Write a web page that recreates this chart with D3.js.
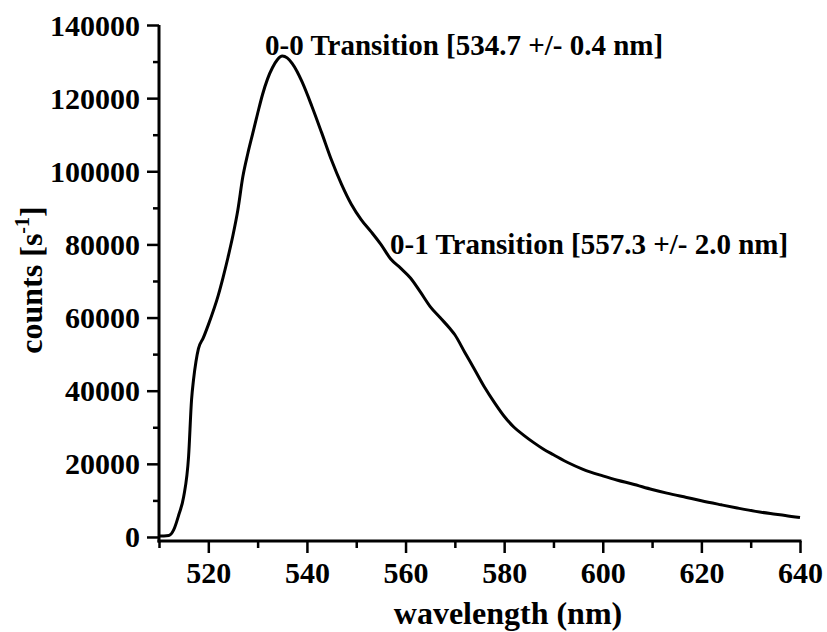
<!DOCTYPE html>
<html>
<head>
<meta charset="utf-8">
<script src="https://cdn.jsdelivr.net/npm/d3@7"></script>
<style>
  body { margin: 0; background: #fff; }
  svg { display: block; }
  text { font-family: "Liberation Serif", "Times New Roman", serif; font-weight: bold; fill: #000; }
</style>
</head>
<body>
<svg id="chart" width="827" height="632"></svg>
<script>
// ---- data ----
const wavelength = [510, 511, 512, 513, 514, 515, 516, 516.6, 517, 517.5, 518, 519, 520, 522, 523, 524, 525, 526, 527, 528, 529, 530, 531, 532, 533, 534, 535, 536, 537, 538, 539, 541, 543, 545, 547, 549, 551, 553, 555, 557, 559, 561, 563, 565, 567, 569, 570, 572, 574, 576, 578, 580, 582, 584, 586, 588, 590, 593, 596, 600, 603, 606, 610, 613, 617, 620, 624, 627, 631, 634, 637, 640];
const counts = [300, 300, 400, 2000, 6000, 11000, 22000, 37500, 43000, 48000, 51500, 54500, 58000, 66000, 71000, 76500, 82500, 89500, 98500, 104800, 110300, 115800, 121000, 125200, 128300, 130500, 131500, 131000, 129500, 127300, 124500, 117800, 110500, 103000, 96500, 91000, 86800, 83500, 80000, 76000, 73500, 70800, 67000, 63000, 60000, 57000, 55300, 50500, 45800, 41000, 36800, 33000, 30000, 27800, 25800, 24000, 22500, 20300, 18500, 16700, 15500, 14500, 13000, 12000, 10800, 9900, 8800, 8000, 7000, 6400, 5900, 5300];

const xMajorTicks = [520, 540, 560, 580, 600, 620, 640];
const xMinorTicks = [510, 530, 550, 570, 590, 610, 630];
const yMajorTicks = [0, 20000, 40000, 60000, 80000, 100000, 120000, 140000];
const yMinorTicks = [10000, 30000, 50000, 70000, 90000, 110000, 130000];

const xTitle = "wavelength (nm)";
const yTitleMain = "counts [s";
const yTitleSup = "-1";
const yTitleEnd = "]";
const annotations = [
  { text: "0-0 Transition [534.7 +/- 0.4 nm]", wl: 534.7 },
  { text: "0-1 Transition [557.3 +/- 2.0 nm]", wl: 557.3 }
];

// ---- layout ----
const svg = d3.select("#chart");
const mLeft = 159, mRight = 800, mTop = 25, mBottom = 541;

const x = d3.scaleLinear().domain([510, 640]).range([mLeft, mRight]);
const y = d3.scaleLinear().domain([-1100, 140000]).range([mBottom, mTop]);

// x axis
const gx = svg.append("g").attr("transform", `translate(0,${mBottom})`);
gx.call(d3.axisBottom(x).tickValues(xMajorTicks).tickSize(12).tickSizeOuter(0).tickFormat(d3.format("d")));
gx.select(".domain").attr("stroke", "#000").attr("stroke-width", 3).attr("d", `M${mLeft - 1.5},0H${mRight + 1.5}`);
gx.selectAll(".tick line").attr("stroke", "#000").attr("stroke-width", 2.5);
gx.selectAll(".tick text").attr("y", 42).attr("dy", 0)
  .style("font-family", "'Liberation Serif', serif").style("font-weight", "bold").style("font-size", "30px").attr("fill", "#000");
const gxm = svg.append("g").attr("transform", `translate(0,${mBottom})`);
gxm.call(d3.axisBottom(x).tickValues(xMinorTicks).tickSize(7).tickSizeOuter(0).tickFormat(""));
gxm.select(".domain").remove();
gxm.selectAll(".tick line").attr("stroke", "#000").attr("stroke-width", 2.5);

// y axis
const gy = svg.append("g").attr("transform", `translate(${mLeft},0)`);
gy.call(d3.axisLeft(y).tickValues(yMajorTicks).tickSize(12).tickSizeOuter(0).tickFormat(d3.format("d")));
gy.select(".domain").attr("stroke", "#000").attr("stroke-width", 3).attr("d", `M0,${mBottom + 1.5}V${mTop}`);
gy.selectAll(".tick line").attr("stroke", "#000").attr("stroke-width", 2.5);
gy.selectAll(".tick text").attr("x", -19).attr("dy", 0).attr("y", 10)
  .style("font-family", "'Liberation Serif', serif").style("font-weight", "bold").style("font-size", "30px").attr("fill", "#000");
const gym = svg.append("g").attr("transform", `translate(${mLeft},0)`);
gym.call(d3.axisLeft(y).tickValues(yMinorTicks).tickSize(6).tickSizeOuter(0).tickFormat(""));
gym.select(".domain").remove();
gym.selectAll(".tick line").attr("stroke", "#000").attr("stroke-width", 2.5);

// curve
const data = wavelength.map((w, i) => ({ w, c: counts[i] }));
svg.append("path")
  .datum(data)
  .attr("fill", "none")
  .attr("stroke", "#000")
  .attr("stroke-width", 3)
  .attr("stroke-linejoin", "round")
  .attr("d", d3.line().x(d => x(d.w)).y(d => y(d.c)).curve(d3.curveMonotoneX));

// axis titles
svg.append("text")
  .attr("x", 508).attr("y", 624)
  .attr("text-anchor", "middle")
  .style("font-size", "32px")
  .text(xTitle);

const yt = svg.append("text")
  .attr("transform", "translate(42,280) rotate(-90)")
  .attr("text-anchor", "middle")
  .style("font-size", "32px");
yt.append("tspan").text(yTitleMain);
yt.append("tspan").attr("dy", -13).style("font-size", "20px").text(yTitleSup);
yt.append("tspan").attr("dy", 13).text(yTitleEnd);

// annotations
svg.append("text").attr("x", 265).attr("y", 55).style("font-size", "29px").text(annotations[0].text);
svg.append("text").attr("x", 390).attr("y", 254).style("font-size", "29px").text(annotations[1].text);
</script>
</body>
</html>
